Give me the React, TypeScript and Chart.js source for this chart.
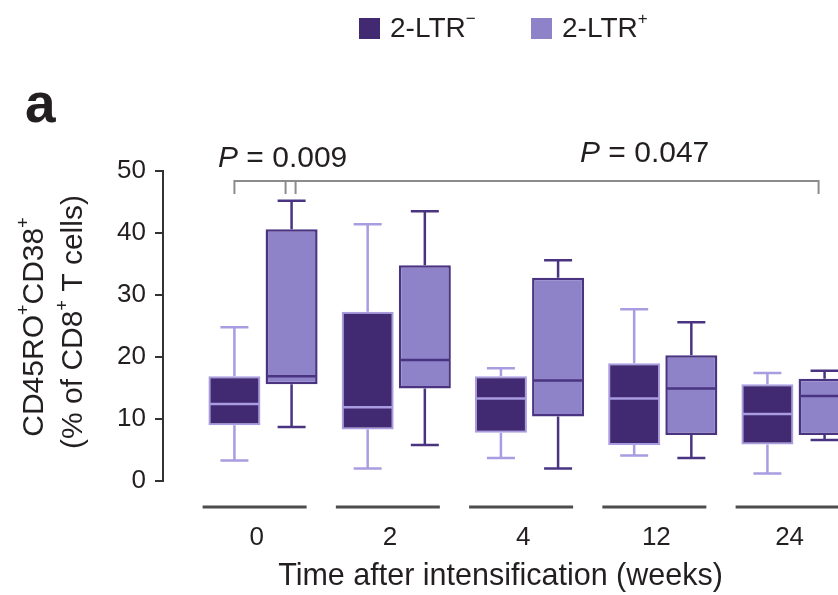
import React, { useEffect, useRef } from 'react';
import { Chart, registerables } from 'chart.js';

Chart.register(...registerables);

// ---------- data ----------
const WEEK_LABELS = ['0', '2', '4', '12', '24'];
const SERIES_NAMES = ['2-LTR', '2-LTR'];
const SERIES_SUPS = ['\u2212', '+'];

const NEG_MIN = [3.3, 2.0, 3.7, 4.1, 1.2];
const NEG_Q1 = [9.0, 8.3, 7.8, 5.8, 5.9];
const NEG_MED = [12.4, 11.9, 13.3, 13.3, 10.8];
const NEG_Q3 = [16.9, 27.3, 16.9, 19.0, 15.6];
const NEG_MAX = [24.8, 41.4, 18.2, 27.7, 17.4];

const POS_MIN = [8.7, 5.8, 2.0, 3.7, 6.6];
const POS_Q1 = [15.6, 14.9, 10.4, 7.4, 7.4];
const POS_MED = [16.9, 19.5, 16.2, 14.9, 13.7];
const POS_Q3 = [40.6, 34.8, 32.8, 20.3, 16.5];
const POS_MAX = [45.2, 43.5, 35.6, 25.6, 17.8];

const P_VALUES = ['0.009', '0.047'];
const X_TITLE = 'Time after intensification (weeks)';

// ---------- style ----------
const FONT = '"Liberation Sans", Arial, Helvetica, sans-serif';
const TEXT = '#231f20';
const DARK_FILL = '#422a72';
const LIGHT_FILL = '#8e83c8';
const DARK_EDGE = '#4a3482';
const LIGHT_EDGE = '#a99ce0';

type Part = { t: string; sup?: boolean; italic?: boolean; bold?: boolean };

function partFont(p: Part, size: number) {
  const s = p.sup ? Math.round(size * 0.6) : size;
  return `${p.italic ? 'italic ' : ''}${p.bold ? 'bold ' : ''}${s}px ${FONT}`;
}

function drawParts(ctx: CanvasRenderingContext2D, parts: Part[], x: number, y: number, size: number, align: 'left' | 'center') {
  ctx.textAlign = 'left';
  ctx.textBaseline = 'alphabetic';
  let total = 0;
  const widths = parts.map((p) => {
    ctx.font = partFont(p, size);
    const w = ctx.measureText(p.t).width;
    total += w;
    return w;
  });
  let cx = align === 'center' ? x - total / 2 : x;
  parts.forEach((p, i) => {
    ctx.font = partFont(p, size);
    ctx.fillText(p.t, cx, p.sup ? y - size * 0.47 : y);
    cx += widths[i];
  });
}

const STATS = [
  { min: NEG_MIN, med: NEG_MED, max: NEG_MAX, q1: NEG_Q1, q3: NEG_Q3, color: LIGHT_EDGE },
  { min: POS_MIN, med: POS_MED, max: POS_MAX, q1: POS_Q1, q3: POS_Q3, color: DARK_EDGE },
];

const boxPartsPlugin = {
  id: 'boxParts',
  beforeDatasetsDraw(chart: any) {
    const ctx = chart.ctx as CanvasRenderingContext2D;
    const ys = chart.scales.y;
    ctx.save();
    STATS.forEach((s, d) => {
      const meta = chart.getDatasetMeta(d);
      meta.data.forEach((el: any, i: number) => {
        const { x } = el.getProps(['x'], true);
        const yMax = ys.getPixelForValue(s.max[i]);
        const yMin = ys.getPixelForValue(s.min[i]);
        const yQ3 = ys.getPixelForValue(s.q3[i]);
        const yQ1 = ys.getPixelForValue(s.q1[i]);
        ctx.strokeStyle = s.color;
        ctx.lineWidth = 2.5;
        ctx.beginPath();
        ctx.moveTo(x, yQ3);
        ctx.lineTo(x, yMax);
        ctx.moveTo(x - 14, yMax);
        ctx.lineTo(x + 14, yMax);
        ctx.moveTo(x, yQ1);
        ctx.lineTo(x, yMin);
        ctx.moveTo(x - 14, yMin);
        ctx.lineTo(x + 14, yMin);
        ctx.stroke();
      });
    });
    ctx.restore();
  },
  afterDatasetsDraw(chart: any) {
    const ctx = chart.ctx as CanvasRenderingContext2D;
    const ys = chart.scales.y;
    ctx.save();
    STATS.forEach((s, d) => {
      const meta = chart.getDatasetMeta(d);
      meta.data.forEach((el: any, i: number) => {
        const { x, width } = el.getProps(['x', 'width'], true);
        const yMed = ys.getPixelForValue(s.med[i]);
        ctx.strokeStyle = s.color;
        ctx.lineWidth = 2.5;
        ctx.beginPath();
        ctx.moveTo(x - width / 2 + 1, yMed);
        ctx.lineTo(x + width / 2 - 1, yMed);
        ctx.stroke();
      });
    });
    ctx.restore();
  },
};

const decorPlugin = {
  id: 'decor',
  afterDraw(chart: any) {
    const ctx = chart.ctx as CanvasRenderingContext2D;
    const xs = chart.scales.x;
    const ys = chart.scales.y;
    ctx.save();

    // group underlines under each time point
    ctx.strokeStyle = '#4d4d4d';
    ctx.lineWidth = 3;
    xs.ticks.forEach((_: any, i: number) => {
      const px = xs.getPixelForTick(i);
      ctx.beginPath();
      ctx.moveTo(px - 54, 507);
      ctx.lineTo(px + 50, 507);
      ctx.stroke();
    });

    // significance brackets
    const neg = chart.getDatasetMeta(0).data;
    const pos = chart.getDatasetMeta(1).data;
    const yTop = ys.getPixelForValue(48.4);
    const yEnd = ys.getPixelForValue(46.3);
    const ax1 = neg[0].x;
    const ax2 = pos[0].x - 6;
    const bx1 = pos[0].x + 4;
    const bx2 = pos[4].x - 6;
    ctx.strokeStyle = '#8c8c8c';
    ctx.lineWidth = 2;
    ctx.beginPath();
    ctx.moveTo(ax1, yEnd);
    ctx.lineTo(ax1, yTop);
    ctx.lineTo(bx2, yTop);
    ctx.lineTo(bx2, yEnd);
    ctx.moveTo(ax2, yTop);
    ctx.lineTo(ax2, yEnd);
    ctx.moveTo(bx1, yTop);
    ctx.lineTo(bx1, yEnd);
    ctx.stroke();

    ctx.fillStyle = TEXT;
    drawParts(ctx, [{ t: 'P', italic: true }, { t: ' = ' + P_VALUES[0] }], 218, 167, 30, 'left');
    drawParts(ctx, [{ t: 'P', italic: true }, { t: ' = ' + P_VALUES[1] }], 580, 162, 30, 'left');

    // legend
    const legendX = [359, 531];
    chart.data.datasets.forEach((ds: any, d: number) => {
      ctx.fillStyle = ds.backgroundColor;
      ctx.fillRect(legendX[d], 18, 21, 21);
      ctx.fillStyle = TEXT;
      drawParts(ctx, [{ t: SERIES_NAMES[d] }, { t: SERIES_SUPS[d], sup: true }], legendX[d] + 31, 37, 28, 'left');
    });

    // panel letter
    ctx.fillStyle = TEXT;
    ctx.font = `bold 55px ${FONT}`;
    ctx.textAlign = 'left';
    ctx.textBaseline = 'alphabetic';
    ctx.fillText('a', 25, 122);

    // y axis title (two lines, rotated)
    ctx.save();
    ctx.translate(43, 327);
    ctx.rotate(-Math.PI / 2);
    drawParts(ctx, [{ t: 'CD45RO' }, { t: '+', sup: true }, { t: 'CD38' }, { t: '+', sup: true }], 0, 0, 30, 'center');
    ctx.restore();
    ctx.save();
    ctx.translate(82, 322);
    ctx.rotate(-Math.PI / 2);
    drawParts(ctx, [{ t: '(% of CD8' }, { t: '+', sup: true }, { t: ' T cells)' }], 0, 0, 30, 'center');
    ctx.restore();

    ctx.restore();
  },
};

export default function App() {
  const ref = useRef<HTMLCanvasElement | null>(null);

  useEffect(() => {
    if (!ref.current) return;
    const chart = new Chart(ref.current, {
      type: 'bar',
      data: {
        datasets: [
          {
            label: SERIES_NAMES[0] + SERIES_SUPS[0],
            data: WEEK_LABELS.map((_, i) => ({ x: i, y: [NEG_Q1[i], NEG_Q3[i]] })) as any,
            backgroundColor: DARK_FILL,
            borderColor: LIGHT_EDGE,
            borderWidth: 2,
            borderSkipped: false,
            categoryPercentage: 0.858,
            barPercentage: 0.91,
            clip: false,
          },
          {
            label: SERIES_NAMES[1] + SERIES_SUPS[1],
            data: WEEK_LABELS.map((_, i) => ({ x: i, y: [POS_Q1[i], POS_Q3[i]] })) as any,
            backgroundColor: LIGHT_FILL,
            borderColor: DARK_EDGE,
            borderWidth: 2.5,
            borderSkipped: false,
            categoryPercentage: 0.858,
            barPercentage: 0.91,
            clip: false,
          },
        ],
      },
      options: {
        responsive: false,
        animation: false,
        devicePixelRatio: 1,
        layout: { padding: { top: 171, left: 0, right: 0, bottom: 0 } },
        plugins: {
          legend: { display: false },
          tooltip: { enabled: false },
        },
        scales: {
          x: {
            type: 'linear',
            position: 'bottom',
            offset: false,
            min: -0.7505,
            max: 4.3152,
            afterFit: (s: any) => {
              s.height = 114;
            },
            afterBuildTicks: (s: any) => {
              s.ticks = WEEK_LABELS.map((_, i) => ({ value: i - 0.048 }));
            },
            grid: {
              display: true,
              drawOnChartArea: false,
              drawTicks: true,
              tickLength: 41,
              color: 'rgba(0,0,0,0)',
              offset: false,
            },
            border: { display: false },
            ticks: {
              autoSkip: false,
              maxRotation: 0,
              padding: 0,
              color: TEXT,
              font: { family: FONT, size: 26 },
              callback: (_v: any, i: number) => WEEK_LABELS[i],
            },
            title: {
              display: true,
              text: X_TITLE,
              color: TEXT,
              font: { family: FONT, size: 30.5 },
              padding: { top: 0, bottom: 0 },
            },
          },
          y: {
            type: 'linear',
            min: 0,
            max: 50,
            afterFit: (s: any) => {
              s.width = 163;
            },
            ticks: {
              stepSize: 10,
              padding: 9,
              color: TEXT,
              font: { family: FONT, size: 26 },
            },
            grid: {
              drawOnChartArea: false,
              drawTicks: true,
              tickLength: 8,
              color: '#333333',
              lineWidth: 2,
            },
            border: { display: true, color: '#333333', width: 2 },
          },
        },
      } as any,
      plugins: [boxPartsPlugin, decorPlugin],
    });
    return () => chart.destroy();
  }, []);

  return (
    <div style={{ position: 'absolute', left: 0, top: 0, width: 838, height: 595, overflow: 'hidden', background: '#fff' }}>
      <canvas ref={ref} width={838} height={595} style={{ display: 'block', width: 838, height: 595 }} />
    </div>
  );
}
